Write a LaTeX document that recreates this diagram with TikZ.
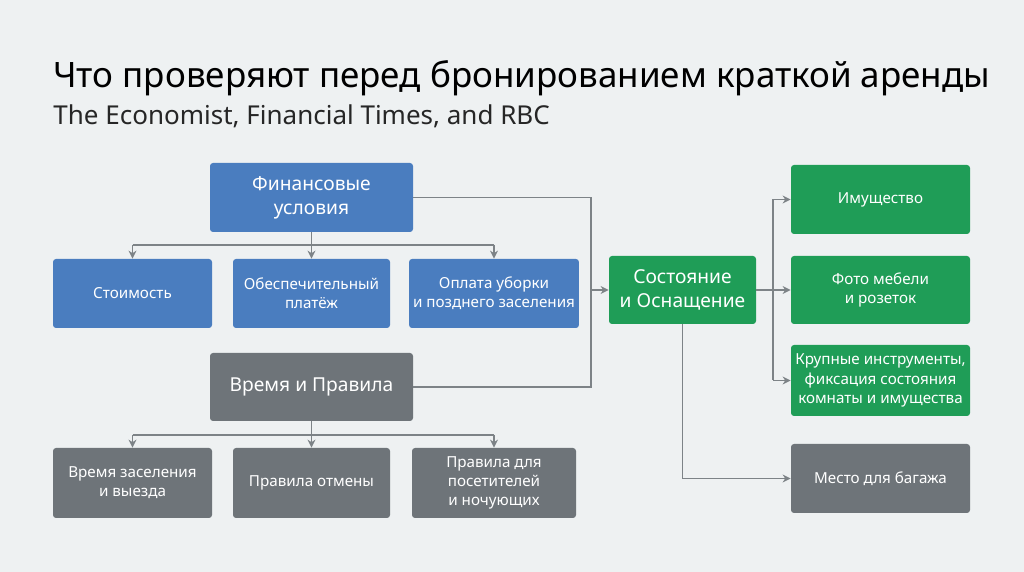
\documentclass[tikz,border=0pt]{standalone}
\usepackage{fontspec}
\setmainfont{Noto Sans}
\usetikzlibrary{arrows.meta}
\definecolor{bg}{HTML}{EEF1F2}
\definecolor{fblue}{HTML}{4A7DBF}
\definecolor{fgray}{HTML}{6E7479}
\definecolor{fgreen}{HTML}{1F9D57}
\definecolor{lgray}{HTML}{7D8387}
\tikzset{
  box/.style={rounded corners=1.5pt, text=white, align=center, font=\fontsize{7.6}{9.6}\selectfont, inner sep=2pt},
  head/.style={box, font=\fontsize{9.6}{12}\selectfont\bfseries},
  link/.style={draw=lgray, line width=0.6pt},
  arr/.style={link, -{Stealth[length=4pt,width=4pt]}}
}
\begin{document}
\begin{tikzpicture}[x=0.5pt,y=-0.5pt]
  \fill[bg] (0,0) rectangle (1024,572);
  % title
  \node[anchor=base west, inner sep=0, font=\fontsize{17.5}{20}\selectfont\bfseries] (title) at (53,88) {Что проверяют перед бронированием краткой аренды};
  \node[anchor=base west, inner sep=0, font=\fontsize{13}{16}\selectfont, text=black!85] (sub) at (53,125) {The Economist, Financial Times, and RBC};
  % finance
  \node[head, fill=fblue, minimum width=101.5pt, minimum height=34.5pt] (fin) at (311.5,197.5) {Финансовые\\условия};
  \node[box, fill=fblue, minimum width=79.5pt, minimum height=34.5pt] (cost) at (132.5,293.5) {Стоимость};
  \node[box, fill=fblue, minimum width=78.5pt, minimum height=34.5pt] (dep) at (311.5,293.5) {Обеспечительный\\платёж};
  \node[box, fill=fblue, minimum width=82pt, minimum height=34.5pt] (clean) at (494,293.5) {Оплата уборки\\и позднего заселения};
  % time
  \node[head, fill=fgray, minimum width=101.5pt, minimum height=34pt] (time) at (311.5,387) {Время и Правила};
  \node[box, fill=fgray, minimum width=79.5pt, minimum height=35pt] (check) at (132.5,483) {Время заселения\\и выезда};
  \node[box, fill=fgray, minimum width=78.5pt, minimum height=35pt] (cancel) at (311.5,483) {Правила отмены};
  \node[box, fill=fgray, minimum width=82pt, minimum height=35pt] (guest) at (494,483) {Правила для\\посетителей\\и ночующих};
  % condition
  \node[head, fill=fgreen, minimum width=73.5pt, minimum height=34pt] (cond) at (682.5,290) {Состояние\\и Оснащение};
  \node[box, fill=fgreen, minimum width=89.5pt, minimum height=34.5pt] (prop) at (880.5,199.5) {Имущество};
  \node[box, fill=fgreen, minimum width=89.5pt, minimum height=34pt] (photo) at (880.5,290) {Фото мебели\\и розеток};
  \node[box, fill=fgreen, minimum width=89.5pt, minimum height=35.5pt] (tools) at (880.5,380.5) {Крупные инструменты,\\фиксация состояния\\комнаты и имущества};
  \node[box, fill=fgray, minimum width=89.5pt, minimum height=34.5pt] (bag) at (880.5,478.5) {Место для багажа};
  % connectors
  \coordinate (fj) at (311.5,245);
  \draw[link] (fin.south) -- (fj);
  \draw[link] (132.5,245) -- (494,245);
  \foreach \n in {cost,dep,clean} \draw[arr] (fj -| \n.north) -- (\n.north);
  \coordinate (tj) at (311.5,435);
  \draw[link] (time.south) -- (tj);
  \draw[link] (132.5,435) -- (494,435);
  \foreach \n in {check,cancel,guest} \draw[arr] (tj -| \n.north) -- (\n.north);
  \coordinate (mj) at (591,290);
  \draw[link] (fin.east) -| (mj);
  \draw[link] (time.east) -| (mj);
  \draw[arr] (mj) -- (cond.west);
  \coordinate (cj) at (773,290);
  \draw[link] (cond.east) -- (cj);
  \draw[link] (773,199.5) -- (773,380.5);
  \foreach \n in {prop,photo,tools} \draw[arr] (cj |- \n.west) -- (\n.west);
  \draw[arr] (cond.south) |- (bag.west);
\end{tikzpicture}
\end{document}
